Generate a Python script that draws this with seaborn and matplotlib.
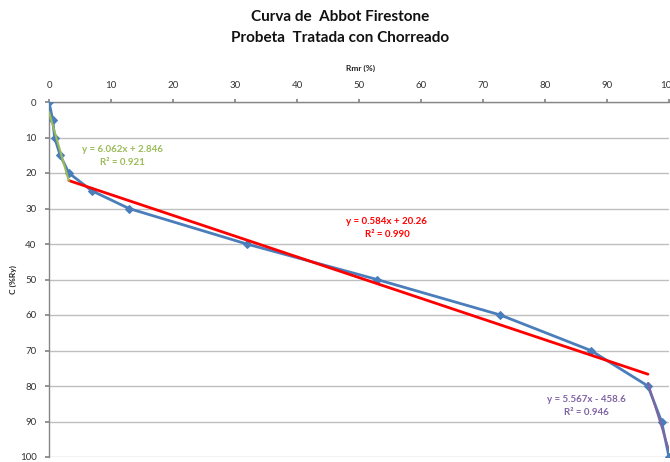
import matplotlib
matplotlib.use("Agg")
import matplotlib.pyplot as plt
import seaborn as sns
import numpy as np
import pandas as pd

# Data
rmr = [0.0, 0.6, 0.9, 1.8, 3.2, 6.9, 12.9, 31.9, 52.9, 72.8, 87.4, 96.6, 98.8, 100.0]
c_ry = [0, 5, 10, 15, 20, 25, 30, 40, 50, 60, 70, 80, 90, 100]

# Trendlines: slope, intercept, x-range
trend_green = {"m": 6.062, "b": 2.846, "x": [0.0, 3.2], "r2": 0.921}
trend_red = {"m": 0.584, "b": 20.26, "x": [3.2, 96.6], "r2": 0.990}
trend_purple = {"m": 5.567, "b": -458.6, "x": [96.6, 100.0], "r2": 0.946}

x_ticks = [0, 10, 20, 30, 40, 50, 60, 70, 80, 90, 100]
y_ticks = [0, 10, 20, 30, 40, 50, 60, 70, 80, 90, 100]

sns.set_theme(style="white")
plt.rcParams['font.family'] = ['Lato', 'DejaVu Sans']

fig = plt.figure(figsize=(6.7, 4.62), dpi=100)
ax = fig.add_axes([49/670, 1 - 457/462, (669 - 49)/670, (457 - 102)/462])

df = pd.DataFrame({"Rmr": rmr, "C": c_ry})
blue = "#4A7EBB"
sns.lineplot(data=df, x="Rmr", y="C", ax=ax, color=blue, lw=2, marker="D",
             markersize=4, markeredgecolor=blue, sort=False, zorder=3)

def trend(t, color, lw):
    xs = np.array(t["x"])
    ys = t["m"] * xs + t["b"]
    sns.lineplot(x=xs, y=ys, ax=ax, color=color, lw=lw, zorder=4)

trend(trend_red, "#FF0000", 2)
trend(trend_green, "#9BBB59", 1.5)
trend(trend_purple, "#8064A2", 1.5)

def eqtext(t, x, y, color):
    sign = "+" if t["b"] >= 0 else "-"
    s = f"y = {t['m']:.3f}x {sign} {abs(t['b']):g}\nR² = {t['r2']:.3f}"
    ax.text(x, y, s, color=color, fontsize=7, fontweight="bold", ha="center",
            va="center", linespacing=1.5, zorder=5)

eqtext(trend_green, 11.8, 15.2, "#9BBB59")
eqtext(trend_red, 54.5, 35.5, "#FF0000")
eqtext(trend_purple, 86.6, 85.6, "#8064A2")

ax.set_xlim(0, 100)
ax.set_ylim(100, 0)
ax.set_xticks(x_ticks)
ax.set_yticks(y_ticks)
ax.xaxis.tick_top()
ax.xaxis.set_label_position("top")
ax.tick_params(axis="x", top=True, bottom=False, direction="out", length=2,
               color="#868686", labelsize=7, labelcolor="#333333", pad=7)
ax.tick_params(axis="y", left=True, direction="out", length=3,
               color="#868686", labelsize=7, labelcolor="#333333", pad=6)
ax.yaxis.grid(True, color="#BFBFBF", lw=1)
ax.xaxis.grid(False)
for side in ["right", "bottom"]:
    ax.spines[side].set_visible(False)
for side in ["top", "left"]:
    ax.spines[side].set_color("#868686")
    ax.spines[side].set_linewidth(1)
ax.set_xlabel("")
ax.set_ylabel("")
ax.set_facecolor("white")

fig.text(360/670, 1 - 68/462, "Rmr (%)", fontsize=6, fontweight="bold",
         ha="center", va="center", color="#222222")
fig.text(13/670, 1 - 280/462, "C (%Ry)", fontsize=6, fontweight="bold",
         ha="center", va="center", rotation=90, color="#222222")
fig.text(340/670, 1 - 17/462, "Curva de  Abbot Firestone", fontsize=11,
         fontweight="bold", ha="center", va="center", color="#111111")
fig.text(340/670, 1 - 38/462, "Probeta  Tratada con Chorreado", fontsize=11,
         fontweight="bold", ha="center", va="center", color="#111111")

fig.savefig("out.png", dpi=100, facecolor="white")
